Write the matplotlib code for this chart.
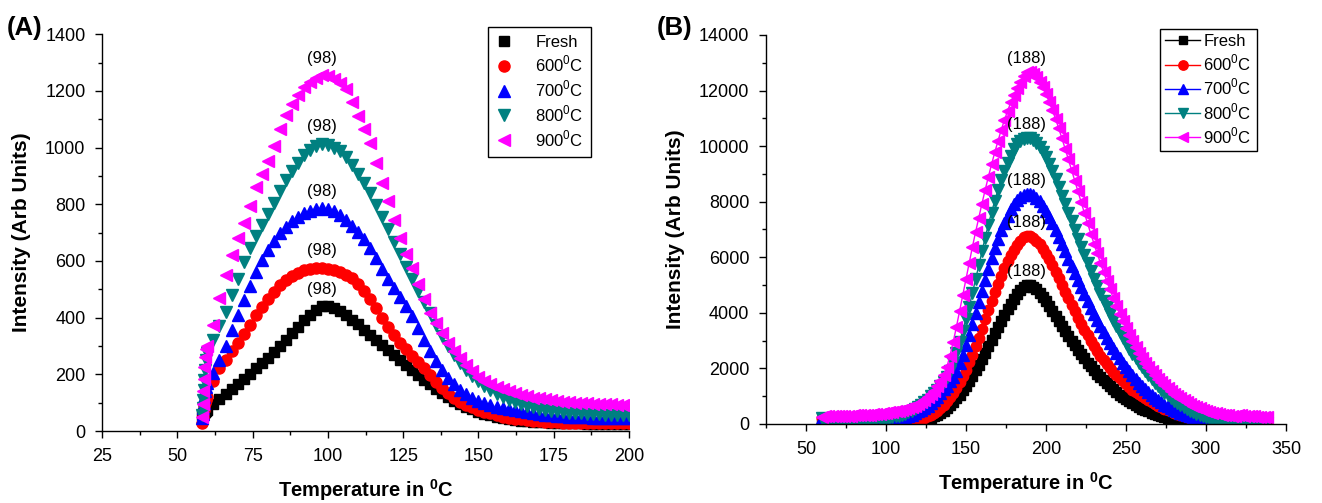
import matplotlib
matplotlib.use("Agg")
import matplotlib.pyplot as plt
from matplotlib.ticker import MultipleLocator

plt.rcParams["font.family"] = ["Liberation Sans", "DejaVu Sans"]
plt.rcParams["mathtext.fontset"] = "custom"
plt.rcParams["mathtext.rm"] = "Liberation Sans"
plt.rcParams["mathtext.bf"] = "Liberation Sans:bold"

# ---- data -------------------------------------------------------------
SERIES = ["Fresh", "600$^0$C", "700$^0$C", "800$^0$C", "900$^0$C"]
COLORS = ["#000000", "#ff0000", "#0000ff", "#008080", "#ff00ff"]
MARKERS = ["s", "o", "^", "v", "<"]

# panel A: temperature (deg C) and glow intensity
TEMP_A = [58.2, 58.4, 58.6, 58.8, 59.0, 59.2, 59.4] + list(range(60, 201, 2))
FRESH_A = [55, 58, 60, 62, 65, 68, 71,
           75, 95, 112, 130, 148, 166, 184, 202, 221, 240,
           259, 279, 300, 322, 345, 368, 390, 410, 428, 440,
           440, 433, 422, 408, 393, 376, 358, 340, 322, 304,
           286, 268, 250, 233, 215, 198, 181, 165, 149, 134,
           120, 107, 95, 85, 76, 68, 61, 55, 50, 46,
           42, 39, 37, 35, 33, 32, 31, 30, 29, 28,
           28, 27, 27, 26, 26, 26, 25, 25, 25, 25,
           25]
C600_A = [30, 45, 60, 75, 90, 100, 110,
          120, 175, 222, 252, 282, 312, 343, 375, 408, 437,
          465, 492, 515, 533, 548, 559, 567, 572, 575, 576,
          573, 567, 560, 550, 540, 520, 495, 465, 435, 400,
          368, 340, 312, 288, 265, 243, 222, 197, 172, 152,
          133, 118, 104, 93, 83, 75, 68, 62, 56, 51,
          47, 44, 41, 38, 36, 34, 33, 32, 31, 30,
          30, 29, 29, 29, 28, 28, 28, 28, 28, 28,
          28]
C700_A = [45, 60, 80, 100, 120, 140, 155,
          170, 205, 250, 300, 355, 410, 462, 512, 560, 603,
          640, 672, 698, 720, 740, 756, 768, 777, 783, 785,
          783, 775, 762, 745, 725, 703, 676, 645, 610, 573,
          536, 505, 472, 440, 405, 365, 322, 283, 248, 217,
          188, 165, 146, 130, 117, 106, 98, 91, 86, 81,
          77, 73, 70, 67, 64, 61, 58, 56, 54, 52,
          51, 50, 49, 48, 47, 47, 46, 46, 45, 45,
          45]
C800_A = [55, 80, 110, 145, 180, 215, 250,
          275, 320, 370, 420, 480, 538, 595, 645, 688, 727,
          765, 805, 846, 884, 917, 947, 972, 992, 1005, 1012,
          1010, 1000, 988, 965, 938, 908, 875, 838, 798, 755,
          712, 668, 624, 580, 537, 495, 455, 415, 375, 335,
          300, 268, 240, 215, 193, 175, 160, 146, 132, 120,
          110, 101, 94, 88, 83, 79, 75, 72, 69, 67,
          65, 63, 62, 61, 60, 59, 58, 57, 57, 56,
          56]
C900_A = [50, 95, 140, 185, 225, 260, 290,
          300, 375, 470, 550, 620, 680, 735, 795, 860, 905,
          952, 1005, 1065, 1115, 1152, 1185, 1212, 1232, 1247, 1255,
          1252, 1243, 1228, 1205, 1160, 1110, 1065, 1015, 945, 875,
          810, 745, 680, 625, 575, 520, 465, 418, 380, 345,
          310, 282, 256, 232, 210, 192, 178, 167, 157, 148,
          140, 133, 127, 122, 118, 115, 112, 109, 106, 104,
          102, 100, 99, 98, 97, 96, 95, 94, 93, 92,
          92]

# panel B
TEMP_B = list(range(60, 339, 2))
FRESH_B = [100, 30, 20, 20, 20, 20, 20, 20, 20, 20,
           20, 20, 20, 20, 20, 20, 20, 20, 25, 25,
           30, 30, 35, 40, 45, 50, 60, 70, 80, 95,
           110, 130, 160, 190, 230, 280, 340, 400, 480, 570,
           670, 790, 920, 1060, 1210, 1370, 1550, 1730, 1930, 2130,
           2350, 2570, 2800, 3030, 3260, 3490, 3710, 3920, 4120, 4310,
           4500, 4680, 4830, 4940, 5000, 4990, 4930, 4840, 4720, 4580,
           4420, 4250, 4070, 3890, 3710, 3530, 3350, 3170, 3000, 2830,
           2670, 2510, 2360, 2210, 2070, 1940, 1810, 1690, 1570, 1460,
           1350, 1250, 1150, 1060, 970, 890, 810, 740, 670, 610,
           550, 500, 450, 400, 360, 320, 290, 260, 230, 200,
           180, 160, 140, 120, 100, 90, 75, 65, 55, 45,
           40, 35, 30, 25, 20, 20, 15, 15, 15, 15,
           10, 10, 10, 10, 10, 10, 10, 10, 10, 10]
C600_B = [200, 120, 80, 60, 50, 50, 50, 50, 50, 50,
          50, 50, 50, 50, 50, 50, 50, 50, 50, 50,
          50, 55, 60, 65, 70, 80, 90, 100, 115, 130,
          150, 180, 220, 270, 330, 400, 480, 580, 690, 820,
          960, 1120, 1300, 1500, 1720, 1960, 2220, 2500, 2800, 3110,
          3430, 3760, 4090, 4420, 4740, 5050, 5340, 5610, 5860, 6080,
          6270, 6430, 6600, 6720, 6780, 6760, 6700, 6600, 6470, 6310,
          6130, 5930, 5710, 5480, 5240, 5000, 4760, 4520, 4280, 4050,
          3830, 3610, 3400, 3200, 3000, 2810, 2630, 2460, 2300, 2150,
          2010, 1880, 1760, 1640, 1530, 1430, 1330, 1240, 1150, 1070,
          990, 920, 850, 780, 720, 660, 600, 550, 500, 450,
          410, 370, 330, 290, 260, 230, 200, 175, 150, 130,
          110, 95, 80, 65, 55, 45, 35, 30, 25, 20,
          20, 15, 15, 15, 10, 10, 10, 10, 10, 10]
C700_B = [200, 150, 120, 100, 100, 100, 100, 100, 100, 100,
          100, 100, 100, 105, 110, 110, 115, 120, 125, 130,
          140, 155, 170, 190, 210, 230, 260, 300, 340, 390,
          450, 510, 580, 660, 750, 850, 960, 1100, 1250, 1380,
          1530, 1700, 1900, 2180, 2500, 2850, 3220, 3600, 3990, 4390,
          4790, 5190, 5580, 5960, 6320, 6660, 6970, 7250, 7500, 7720,
          7900, 8050, 8170, 8250, 8290, 8280, 8230, 8140, 8010, 7850,
          7660, 7450, 7220, 6980, 6730, 6470, 6210, 5950, 5690, 5430,
          5170, 4920, 4670, 4430, 4190, 3960, 3740, 3520, 3310, 3110,
          2910, 2720, 2540, 2370, 2200, 2040, 1890, 1750, 1610, 1480,
          1360, 1250, 1140, 1040, 950, 860, 780, 700, 630, 570,
          510, 450, 400, 360, 320, 280, 250, 220, 190, 165,
          140, 120, 100, 85, 70, 60, 50, 40, 30, 25,
          20, 20, 20, 20, 20, 20, 20, 20, 20, 20]
C800_B = [220, 180, 160, 150, 150, 150, 150, 150, 150, 150,
          150, 150, 150, 150, 150, 150, 160, 170, 180, 195,
          210, 230, 250, 270, 300, 330, 370, 420, 480, 540,
          610, 690, 780, 880, 990, 1100, 1220, 1350, 1500, 1700,
          1920, 2180, 2550, 2950, 3360, 3780, 4220, 4700, 5200, 5710,
          6210, 6700, 7170, 7610, 8030, 8420, 8780, 9110, 9400, 9660,
          9880, 10060, 10190, 10270, 10300, 10280, 10220, 10120, 9980, 9800,
          9590, 9350, 9090, 8810, 8520, 8220, 7910, 7600, 7290, 6980,
          6670, 6370, 6070, 5780, 5500, 5220, 4950, 4690, 4440, 4200,
          3960, 3730, 3510, 3300, 3100, 2900, 2710, 2530, 2360, 2200,
          2040, 1890, 1750, 1610, 1480, 1360, 1240, 1130, 1030, 930,
          840, 760, 680, 610, 540, 480, 420, 370, 320, 280,
          240, 210, 180, 150, 130, 110, 90, 80, 70, 60,
          50, 45, 40, 40, 40, 40, 40, 40, 40, 40]
C900_B = [250, 280, 290, 290, 290, 290, 290, 300, 300, 300,
          310, 310, 320, 320, 330, 340, 350, 360, 370, 385,
          400, 420, 440, 460, 480, 500, 530, 570, 610, 660,
          720, 790, 870, 960, 1070, 1190, 1350, 1540, 1770, 2040,
          2450, 2940, 3480, 4060, 4640, 5220, 5800, 6360, 6900, 7420,
          7930, 8420, 8890, 9340, 9770, 10180, 10570, 10930, 11260, 11570,
          11850, 12100, 12320, 12520, 12680, 12660, 12590, 12470, 12310, 12110,
          11870, 11600, 11300, 10980, 10640, 10280, 9910, 9530, 9150, 8760,
          8370, 7980, 7600, 7220, 6850, 6490, 6140, 5800, 5470, 5150,
          4840, 4540, 4250, 3970, 3700, 3440, 3200, 2970, 2760, 2560,
          2380, 2210, 2050, 1900, 1760, 1630, 1510, 1400, 1290, 1190,
          1090, 1000, 920, 850, 780, 720, 660, 610, 560, 520,
          480, 440, 410, 380, 360, 340, 320, 310, 300, 300,
          310, 310, 300, 290, 280, 270, 260, 250, 250, 240]

PEAK_A = 98
PEAK_B = 188


def style_axes(ax, xlim, ylim, xmaj, ymaj):
    ax.set_xlim(*xlim)
    ax.set_ylim(*ylim)
    ax.spines["top"].set_visible(False)
    ax.spines["right"].set_visible(False)
    for s in ("left", "bottom"):
        ax.spines[s].set_linewidth(1.0)
    ax.xaxis.set_major_locator(MultipleLocator(xmaj))
    ax.xaxis.set_minor_locator(MultipleLocator(xmaj / 2))
    ax.yaxis.set_major_locator(MultipleLocator(ymaj))
    ax.yaxis.set_minor_locator(MultipleLocator(ymaj / 2))
    ax.tick_params(which="major", direction="out", length=5, width=1,
                   labelsize=13, pad=7)
    ax.tick_params(which="minor", direction="out", length=3, width=1)
    ax.set_xlabel(r"Temperature in $^{\mathbf{0}}$C", fontsize=14.5,
                  fontweight="bold", labelpad=9)
    ax.set_ylabel("Intensity (Arb Units)", fontsize=15, fontweight="bold",
                  labelpad=10)


def main():
    fig = plt.figure(figsize=(13.22, 5.03), dpi=100)
    ax_a = fig.add_axes([0.0772, 0.1431, 0.3986, 0.789])
    ax_b = fig.add_axes([0.5794, 0.1571, 0.3933, 0.7734])

    # --- (A): markers only ----------------------------------------------
    data_a = [FRESH_A, C600_A, C700_A, C800_A, C900_A]
    sizes_a = [7.5, 8, 8.5, 8.5, 8.5]
    for vals, lab, c, m, ms in zip(data_a, SERIES, COLORS, MARKERS, sizes_a):
        ax_a.plot(TEMP_A, vals, linestyle="none", marker=m, ms=ms, color=c,
                  mec=c, label=lab)
    for vals in data_a:
        i = TEMP_A.index(PEAK_A)
        ax_a.annotate(f"({PEAK_A})", xy=(PEAK_A, vals[i]), xytext=(0, 7),
                      textcoords="offset points", ha="center", va="bottom",
                      fontsize=12)
    style_axes(ax_a, (25, 200), (0, 1400), 25, 200)
    ax_a.legend(loc="upper left", bbox_to_anchor=(0.732, 1.018),
                borderaxespad=0, fontsize=12, frameon=True, fancybox=False,
                edgecolor="black", handlelength=1.0, handletextpad=1.4,
                labelspacing=0.26, borderpad=0.45, framealpha=1)
    ax_a.get_legend().get_frame().set_linewidth(1.0)

    # --- (B): lines with markers ----------------------------------------
    data_b = [FRESH_B, C600_B, C700_B, C800_B, C900_B]
    sizes_b = [7, 7.5, 8, 8, 8]
    for vals, lab, c, m, ms in zip(data_b, SERIES, COLORS, MARKERS, sizes_b):
        ax_b.plot(TEMP_B, vals, linestyle="-", lw=1, marker=m, ms=ms,
                  color=c, mec=c, label=lab)
    for vals in data_b:
        i = TEMP_B.index(PEAK_B)
        ax_b.annotate(f"({PEAK_B})", xy=(PEAK_B, vals[i]), xytext=(0, 4),
                      textcoords="offset points", ha="center", va="bottom",
                      fontsize=12)
    style_axes(ax_b, (25, 350), (0, 14000), 50, 2000)
    ax_b.legend(loc="upper left", bbox_to_anchor=(0.758, 1.015),
                borderaxespad=0, fontsize=12, frameon=True, fancybox=False,
                edgecolor="black", handlelength=2.1, handletextpad=0.2,
                labelspacing=0.22, borderpad=0.3, framealpha=1,
                markerscale=0.9)
    ax_b.get_legend().get_frame().set_linewidth(1.0)

    fig.text(0.005, 0.968, "(A)", fontsize=18.5, fontweight="bold", va="top")
    fig.text(0.497, 0.968, "(B)", fontsize=18.5, fontweight="bold", va="top")

    fig.savefig("out.png", dpi=100)


if __name__ == "__main__":
    main()
